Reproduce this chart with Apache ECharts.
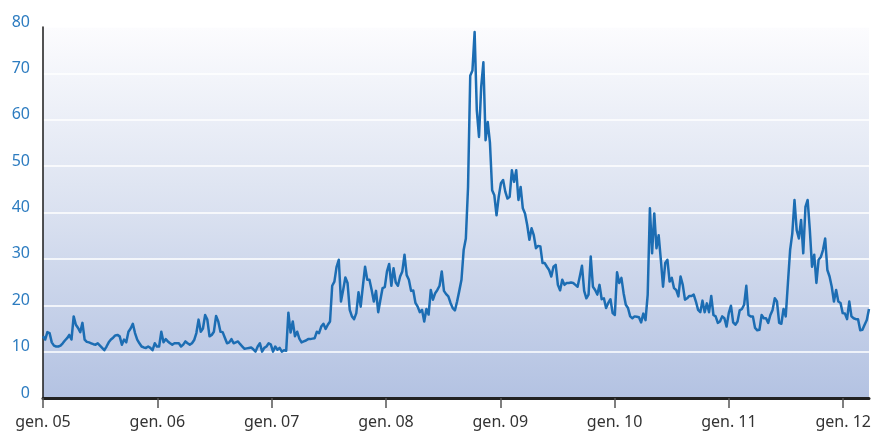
<!DOCTYPE html>
<html>
<head>
<meta charset="utf-8">
<script src="https://cdn.jsdelivr.net/npm/echarts@6/dist/echarts.min.js"></script>
<style>
html,body{margin:0;padding:0;background:#fff;}
#c{width:874px;height:435px;}
</style>
</head>
<body>
<div id="c"></div>
<script>
// Weekly series starting first week of January 2005
var startYear = 2005;
var weekValues = [
13.3,12.6,14.2,14.0,12.0,11.3,11.1,11.1,11.3,11.8,
12.4,12.9,13.6,12.6,17.6,15.8,15.1,14.2,16.2,12.6,
12.1,12.0,11.8,11.6,11.5,11.8,11.3,10.8,10.3,11.1,
12.0,12.6,13.0,13.5,13.6,13.3,11.5,12.6,12.0,14.3,
15.0,16.0,14.0,12.6,11.8,11.1,10.9,10.8,11.1,10.8,
10.3,11.8,11.1,11.1,14.3,12.0,12.7,12.2,11.8,11.5,
11.8,11.8,11.8,11.1,11.5,12.2,11.8,11.5,11.8,12.5,
14.0,16.9,14.3,15.0,17.9,16.9,13.3,13.6,14.3,17.7,
16.5,14.3,14.2,13.0,11.8,12.0,12.7,11.8,12.0,12.2,
11.6,11.1,10.6,10.7,10.8,10.9,10.5,10.0,11.1,11.8,
10.0,10.8,11.1,11.8,11.5,10.0,11.1,10.4,10.8,10.0,
10.3,10.2,18.4,14.1,16.5,13.3,14.3,12.8,12.0,12.2,
12.4,12.7,12.7,12.8,12.9,14.3,14.0,15.4,16.0,14.9,
15.8,16.5,24.2,25.1,28.3,29.8,20.8,23.3,26.0,24.8,
19.0,17.6,17.0,18.3,22.8,19.7,24.1,28.3,25.5,25.5,
23.3,20.8,23.1,18.5,21.2,23.7,23.9,27.3,28.9,24.2,
28.0,24.9,24.2,26.2,27.3,30.9,26.5,25.5,23.1,23.2,
20.5,19.7,18.5,19.0,16.5,19.2,18.0,23.3,21.2,22.6,
23.3,24.2,27.3,23.1,22.4,21.9,20.5,19.4,18.9,20.8,
23.1,25.5,31.9,34.4,45.5,69.5,70.6,78.9,62.0,56.3,
67.1,72.4,55.6,59.5,55.0,44.8,43.7,39.4,43.4,46.3,
47.0,44.5,43.0,43.4,49.1,46.6,49.1,42.7,45.5,40.9,
39.8,37.3,34.1,36.6,35.1,32.3,32.8,32.7,29.1,29.1,
28.3,27.6,26.2,28.3,28.7,24.4,23.2,25.5,24.4,24.8,
24.8,24.9,24.8,24.4,24.0,26.2,28.5,23.1,21.5,22.3,
30.5,24.0,23.3,22.3,24.4,21.3,21.5,19.4,20.5,21.3,
18.3,17.9,27.1,24.8,25.9,22.6,20.1,19.4,17.6,17.2,
17.6,17.5,17.4,16.3,18.2,16.8,22.3,40.9,31.2,39.8,
32.3,35.1,29.8,24.0,29.1,29.8,25.1,25.9,23.7,23.3,
21.9,26.2,24.4,21.2,21.5,22.0,22.0,22.3,20.8,19.0,
18.5,21.0,18.5,20.4,18.5,22.0,17.9,17.6,16.2,16.5,
17.6,17.2,15.4,18.3,19.9,16.3,15.8,16.5,18.9,19.2,
20.1,24.2,17.9,17.6,17.6,15.1,14.6,14.7,17.9,17.2,
17.2,16.2,17.9,19.0,21.5,20.8,16.2,16.0,19.2,17.6,
24.8,31.9,35.5,42.7,36.2,34.4,38.4,31.2,41.2,42.7,
36.2,28.3,30.9,24.8,29.8,30.4,31.9,34.4,27.6,26.2,
24.0,20.8,23.3,20.8,20.5,18.3,18.2,17.0,20.8,17.6,
17.2,17.0,17.0,14.6,14.7,15.8,16.8,19.2
];
var yearTickLabels = ['gen. 05','gen. 06','gen. 07','gen. 08','gen. 09','gen. 10','gen. 11','gen. 12'];
var yTicks = [0,10,20,30,40,50,60,70,80];

var seriesData = weekValues.map(function(v, i){
  return [startYear + i * 7 / 365.25, v];
});

var chart = echarts.init(document.getElementById('c'));
chart.setOption({
  animation: false,
  backgroundColor: '#ffffff',
  grid: {
    left: 43, right: 5, top: 27, bottom: 37,
    show: true,
    borderWidth: 0,
    backgroundColor: {
      type: 'linear', x: 0, y: 0, x2: 0, y2: 1,
      colorStops: [
        {offset: 0, color: '#fcfcfe'},
        {offset: 0.5, color: '#dae1f0'},
        {offset: 1, color: '#b3c2e2'}
      ]
    }
  },
  xAxis: {
    type: 'value',
    min: startYear,
    max: 'dataMax',
    interval: 1,
    axisLine: {show: true, onZero: false, lineStyle: {color: '#222222', width: 3}},
    axisTick: {show: true, length: 10, lineStyle: {color: '#555555', width: 1.5}},
    splitLine: {show: false},
    axisLabel: {
      color: '#333333',
      fontFamily: 'Noto Sans',
      fontSize: 16,
      margin: 16,
      showMaxLabel: false,
      formatter: function(v){
        var idx = Math.round(v - startYear);
        return yearTickLabels[idx] || '';
      }
    }
  },
  yAxis: {
    type: 'value',
    min: yTicks[0],
    max: yTicks[yTicks.length - 1],
    interval: 10,
    axisLine: {show: true, lineStyle: {color: '#1a1a1a', width: 1.5}},
    axisTick: {show: false},
    splitLine: {show: true, lineStyle: {color: '#ffffff', width: 1.5}},
    axisLabel: {
      color: '#2d7cc0',
      fontFamily: 'Noto Sans',
      fontSize: 16,
      margin: 13,
      verticalAlign: 'bottom',
      lineHeight: 10
    }
  },
  series: [{
    type: 'line',
    data: seriesData,
    showSymbol: false,
    symbol: 'none',
    lineStyle: {color: '#1c6db3', width: 2.5, join: 'round'},
    z: 5
  }]
});
</script>
</body>
</html>
